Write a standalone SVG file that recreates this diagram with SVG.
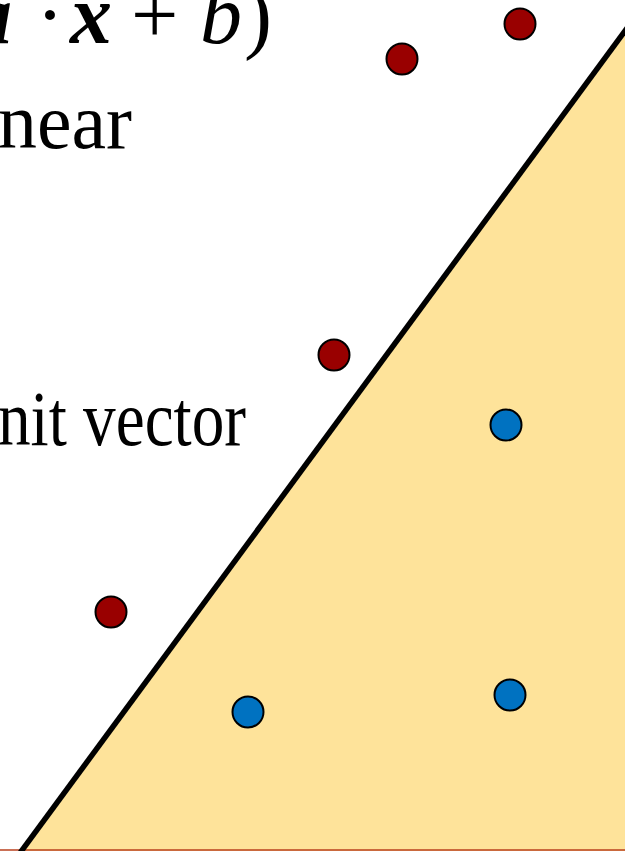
<svg xmlns="http://www.w3.org/2000/svg" width="625" height="851" viewBox="0 0 625 851">
<style>
.t{font-family:"Liberation Serif","DejaVu Serif",serif;font-size:78px;fill:#000}
.m{font-size:84px}
.bi{font-weight:bold;font-style:italic}
.it{font-style:italic}
.red{fill:#990000;stroke:#000;stroke-width:2}
.blue{fill:#0072C1;stroke:#000;stroke-width:2}
</style>
<rect width="625" height="851" fill="#fff"/>
<g id="region">
<polygon points="20,851 628,28 628,851" fill="#FEE39A"/>
<line x1="0" y1="850" x2="625" y2="850" stroke="#B8401E" stroke-width="1.5"/>
</g>
<g id="connectors">
<line x1="20" y1="853" x2="630" y2="24" stroke="#000" stroke-width="5.5"/>
</g>
<g id="labels">
<text class="t m" y="43"><tspan class="bi" x="-30">a</tspan><tspan x="36">·</tspan><tspan class="bi" x="70">x</tspan><tspan x="131">+</tspan><tspan class="it" x="200">b</tspan><tspan x="244">)</tspan></text>
<text class="t" x="-2" y="148" textLength="134" lengthAdjust="spacingAndGlyphs">near</text>
<text class="t" x="-2" y="445" textLength="248" lengthAdjust="spacingAndGlyphs">nit vector</text>
</g>
<g id="p1"><circle class="red" cx="520" cy="24" r="15.5"/></g>
<g id="p2"><circle class="red" cx="402" cy="59" r="15.5"/></g>
<g id="p3"><circle class="red" cx="334" cy="355" r="15.5"/></g>
<g id="p4"><circle class="red" cx="111" cy="612" r="15.5"/></g>
<g id="p5"><circle class="blue" cx="506" cy="425" r="15.5"/></g>
<g id="p6"><circle class="blue" cx="248" cy="712" r="15.5"/></g>
<g id="p7"><circle class="blue" cx="510" cy="695" r="15.5"/></g>
</svg>
